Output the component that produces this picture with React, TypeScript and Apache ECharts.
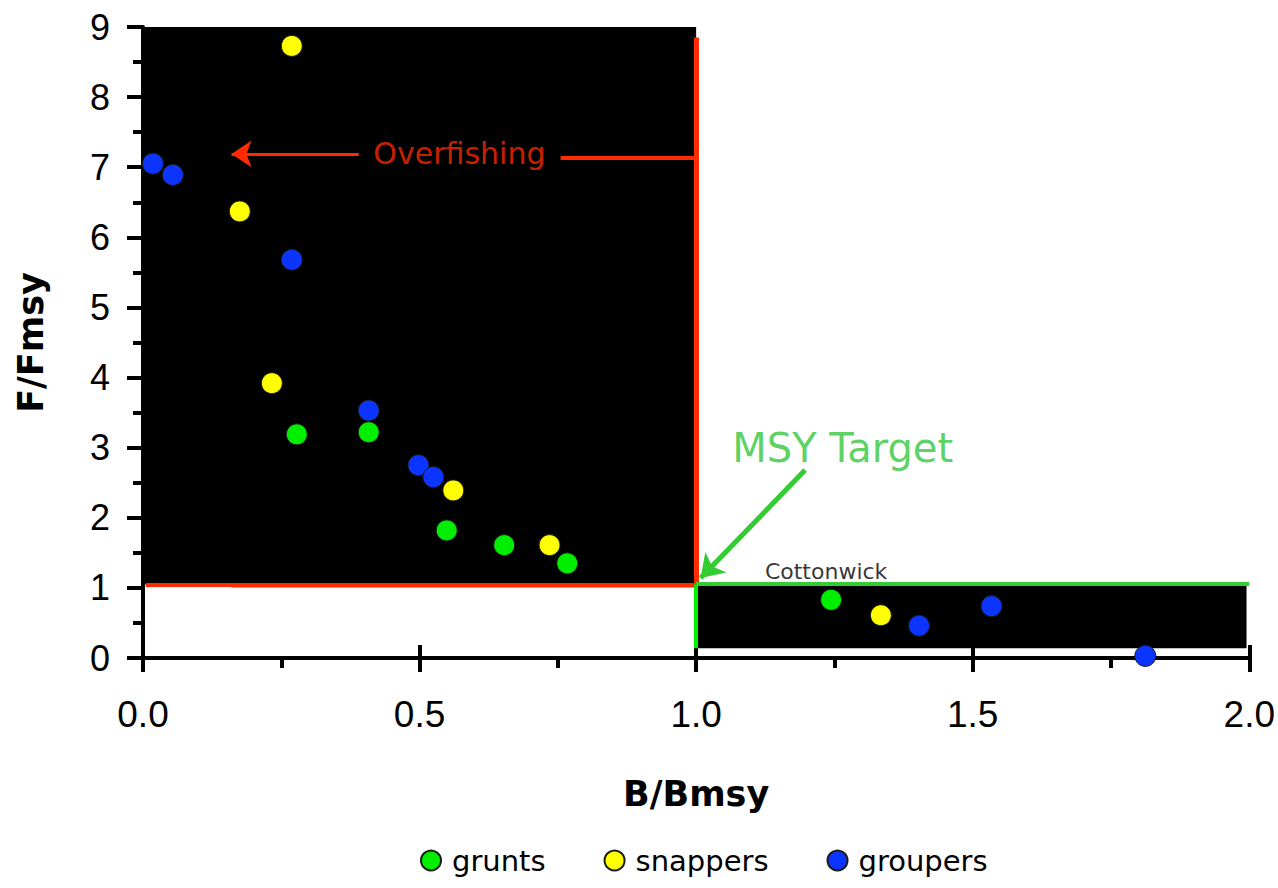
import React, { useEffect, useRef } from "react";
import * as echarts from "echarts";

// B/Bmsy, F/Fmsy pairs
const grunts: [number, number][] = [
  [0.278, 3.19], [0.408, 3.22], [0.549, 1.82], [0.653, 1.61], [0.767, 1.35], [1.244, 0.83],
];
const snappers: [number, number][] = [
  [0.269, 8.73], [0.175, 6.37], [0.233, 3.92], [0.561, 2.39], [0.735, 1.61], [1.334, 0.61],
];
const groupers: [number, number][] = [
  [0.018, 7.05], [0.054, 6.89], [0.269, 5.68], [0.408, 3.53], [0.498, 2.75], [0.525, 2.58],
  [1.403, 0.46], [1.534, 0.74], [1.812, 0.03],
];
const xTicks = [0, 0.5, 1, 1.5, 2];
const yTicks = [0, 1, 2, 3, 4, 5, 6, 7, 8, 9];

// Zones and guide lines in data units
const overfishingZone = { x0: 0, x1: 1, y0: 1.05, y1: 9 };
const cottonwickZone = { x0: 1, x1: 1.995, y0: 0.14, y1: 1.05 };
const msyLevel = 1.05;

const FONT = "DejaVu Sans";
const RED = "#ff2a00";
const GREEN = "#33cc33";

export default function App() {
  const ref = useRef<HTMLDivElement>(null);
  useEffect(() => {
    if (!ref.current) return;
    const chart = echarts.init(ref.current, undefined, { renderer: "svg" });
    const pointStyle = (color: string) => ({
      color,
      borderColor: "#1a1a1a",
      borderWidth: 1,
      opacity: 1,
    });
    const plain = (from: [number, number], to: [number, number], color: string, width: number, arrow = false, arrowSize = 18) => [
      { coord: from, symbol: "none", lineStyle: { color, width, type: "solid" } },
      { coord: to, symbol: arrow ? "arrow" : "none", symbolSize: arrowSize, lineStyle: { color, width, type: "solid" } },
    ];
    chart.setOption({
      animation: false,
      backgroundColor: "#ffffff",
      grid: { left: 143, right: 28, top: 27, bottom: 230 },
      xAxis: [
        {
          type: "value",
          min: 0,
          max: 2,
          interval: 0.5,
          name: "B/Bmsy",
          nameLocation: "middle",
          nameGap: 118,
          nameTextStyle: { fontFamily: FONT, fontWeight: "bold", fontSize: 35, color: "#000" },
          axisLine: { show: true, onZero: false, lineStyle: { color: "#000", width: 4 } },
          axisTick: { show: true, length: 14, lineStyle: { color: "#000", width: 4 } },
          minorTick: { show: true, splitNumber: 2, length: 10, lineStyle: { color: "#000", width: 4 } },
          axisLabel: {
            margin: 38,
            fontFamily: "Liberation Sans",
            fontSize: 37,
            color: "#000",
            formatter: (v: number) => (xTicks.includes(v) ? v.toFixed(1) : ""),
          },
          splitLine: { show: false },
        },
        {
          type: "value",
          min: 0,
          max: 2,
          interval: 0.5,
          position: "bottom",
          axisLine: { show: false },
          axisTick: { show: true, inside: true, length: 13, lineStyle: { color: "#000", width: 4 } },
          axisLabel: { show: false },
          splitLine: { show: false },
        },
      ],
      yAxis: {
        type: "value",
        min: 0,
        max: 9,
        interval: 1,
        name: "F/Fmsy",
        nameLocation: "middle",
        nameGap: 95,
        nameTextStyle: { fontFamily: FONT, fontWeight: "bold", fontSize: 35, color: "#000" },
        axisLine: { show: true, onZero: false, lineStyle: { color: "#000", width: 4 } },
        axisTick: { show: true, length: 16, lineStyle: { color: "#000", width: 4 } },
        minorTick: { show: true, splitNumber: 2, length: 10, lineStyle: { color: "#000", width: 4 } },
        axisLabel: {
          margin: 33,
          fontFamily: "Liberation Sans",
          fontSize: 36,
          color: "#000",
          formatter: (v: number) => (yTicks.includes(v) ? String(v) : ""),
        },
        splitLine: { show: false },
      },
      legend: {
        data: ["grunts", "snappers", "groupers"],
        bottom: 8,
        left: 415,
        icon: "circle",
        itemWidth: 20,
        itemHeight: 20,
        itemGap: 58,
        textStyle: { fontFamily: FONT, fontSize: 29, color: "#000", padding: [0, 0, 0, 6] },
      },
      series: [
        {
          name: "zones",
          type: "scatter",
          data: [],
          z: 1,
          silent: true,
          markArea: {
            silent: true,
            itemStyle: { color: "#000", opacity: 1 },
            label: { show: false },
            data: [
              [
                { coord: [overfishingZone.x0, overfishingZone.y1] },
                { coord: [overfishingZone.x1, overfishingZone.y0] },
              ],
              [
                { coord: [cottonwickZone.x0, cottonwickZone.y1] },
                { coord: [cottonwickZone.x1, cottonwickZone.y0] },
              ],
            ],
          },
        },
        {
          name: "guides",
          type: "scatter",
          data: [],
          z: 3,
          silent: true,
          markLine: {
            silent: true,
            label: { show: false },
            symbol: ["none", "none"],
            data: [
              plain([0.16, 1.01], [1, 1.01], "#66dd55", 2),
              plain([0.005, msyLevel], [1, msyLevel], RED, 4),
              plain([1, msyLevel], [1, 8.85], RED, 5),
              plain([0.755, 7.14], [1, 7.14], RED, 4),
              plain([0.39, 7.19], [0.16, 7.19], RED, 3, true, 20),
              plain([1, msyLevel + 0.01], [2, msyLevel + 0.01], GREEN, 4),
              plain([1, msyLevel], [1, 0.14], "#00ee00", 4),
              plain([1.197, 2.68], [1.008, 1.14], GREEN, 5, true, 22),
            ],
          },
        },
        {
          name: "grunts",
          type: "scatter",
          data: grunts,
          symbol: "circle",
          symbolSize: 21,
          z: 5,
          itemStyle: pointStyle("#00ee00"),
        },
        {
          name: "snappers",
          type: "scatter",
          data: snappers,
          symbol: "circle",
          symbolSize: 21,
          z: 5,
          itemStyle: pointStyle("#ffff00"),
        },
        {
          name: "groupers",
          type: "scatter",
          data: groupers,
          symbol: "circle",
          symbolSize: 21,
          z: 5,
          itemStyle: pointStyle("#0b35ff"),
        },
        {
          name: "notes",
          type: "scatter",
          symbolSize: 0,
          z: 6,
          silent: true,
          data: [
            {
              value: [0.572, 7.2],
              label: { show: true, position: "inside", formatter: "Overfishing", color: RED, fontSize: 30, fontFamily: FONT },
            },
            {
              value: [1.265, 3.0],
              label: { show: true, position: "inside", formatter: "MSY Target", color: "#33c63c", fontSize: 40, fontFamily: FONT },
            },
            {
              value: [1.235, 1.24],
              label: { show: true, position: "inside", formatter: "Cottonwick", color: "#000", fontSize: 22, fontFamily: FONT },
            },
          ],
        },
      ],
    });
    return () => chart.dispose();
  }, []);
  return <div ref={ref} style={{ width: 1278, height: 888, position: "absolute", left: 0, top: 0 }} />;
}
